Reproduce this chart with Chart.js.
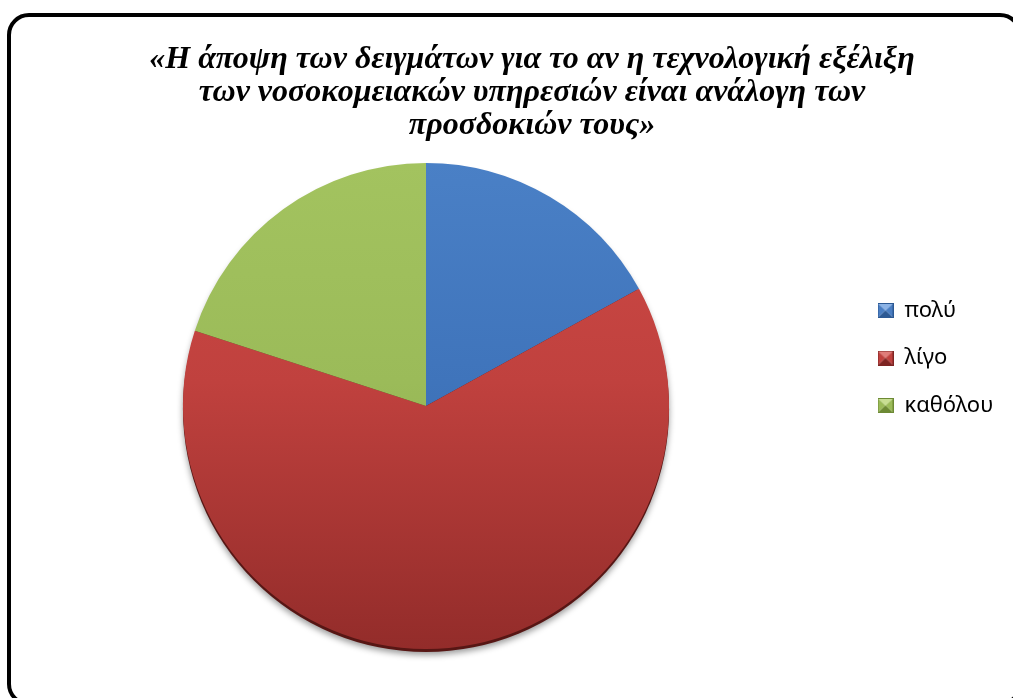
<!DOCTYPE html>
<html lang="el">
<head>
<meta charset="utf-8">
<title>Τεχνολογική εξέλιξη νοσοκομειακών υπηρεσιών</title>
<script src="https://cdn.jsdelivr.net/npm/chart.js@4.4.1/dist/chart.umd.min.js"></script>
<style>
    html, body { margin: 0; padding: 0; background: #fff; overflow: hidden; }
    #pieChart { position: absolute; left: 0; top: 0; }
</style>
</head>
<body>
<canvas id="pieChart" width="1080" height="710"></canvas>
<script>
const titleLines = [
    '«Η άποψη των δειγμάτων για το αν η τεχνολογική εξέλιξη',
    'των νοσοκομειακών υπηρεσιών είναι ανάλογη των',
    'προσδοκιών τους»',
]
const labels = ['πολύ', 'λίγο', 'καθόλου']
const values = [17, 63, 20]

// slice shading: light at the top, darker towards the bottom
const topColors = ['#4a80c6', '#ce4a46', '#a3c35f']
const baseColors = ['#3f74bb', '#c0413e', '#9bbb59']
const bottomColors = ['#3363a6', '#932c2a', '#88a748']

const sliceFill = (context) => {
    const i = context.dataIndex
    const area = context.chart.chartArea
    if (!area) return baseColors[i]
    const g = context.chart.ctx.createLinearGradient(0, area.top, 0, area.bottom)
    g.addColorStop(0, topColors[i])
    g.addColorStop(0.45, baseColors[i])
    g.addColorStop(1, bottomColors[i])
    return g
}

// small bevelled squares for the legend
const bevelBox = (light, mid, dark) => {
    const c = document.createElement('canvas')
    c.width = 16
    c.height = 15
    const g = c.getContext('2d')
    const tri = (pts, color) => {
        g.fillStyle = color
        g.beginPath()
        g.moveTo(pts[0], pts[1])
        g.lineTo(pts[2], pts[3])
        g.lineTo(8, 7.5)
        g.closePath()
        g.fill()
    }
    tri([0, 0, 16, 0], light)
    tri([0, 0, 0, 15], mid)
    tri([16, 0, 16, 15], mid)
    tri([0, 15, 16, 15], dark)
    g.strokeStyle = dark
    g.strokeRect(0.5, 0.5, 15, 14)
    return c
}
const legendIcons = [
    bevelBox('#8cb3e6', '#4a7ec3', '#2c5994'),
    bevelBox('#e07d7a', '#c0413e', '#7e2422'),
    bevelBox('#c8de93', '#9bbb59', '#6d8a34'),
]

// rounded black frame round the whole chart
const chartFrame = {
    id: 'chartFrame',
    beforeDraw(chart) {
        const ctx = chart.ctx
        const x0 = 9, y0 = 15, x1 = 1020, y1 = 704, r = 20
        ctx.save()
        ctx.lineWidth = 4
        ctx.strokeStyle = '#000'
        ctx.beginPath()
        ctx.moveTo(x0 + r, y0)
        ctx.arcTo(x1, y0, x1, y1, r)
        ctx.arcTo(x1, y1, x0, y1, r)
        ctx.arcTo(x0, y1, x0, y0, r)
        ctx.arcTo(x0, y0, x1, y0, r)
        ctx.closePath()
        ctx.stroke()
        ctx.restore()
    },
}

// dark rim and soft shadow under the pie
const pieShadow = {
    id: 'pieShadow',
    beforeDatasetsDraw(chart) {
        const arc = chart.getDatasetMeta(0).data[0]
        if (!arc) return
        const ctx = chart.ctx
        ctx.save()
        ctx.shadowColor = 'rgba(0, 0, 0, 0.4)'
        ctx.shadowBlur = 6
        ctx.shadowOffsetY = 3
        ctx.fillStyle = '#571614'
        ctx.beginPath()
        ctx.arc(arc.x, arc.y + 3, arc.outerRadius, 0, Math.PI * 2)
        ctx.fill()
        ctx.restore()
    },
}

// give the legend a fixed width so the title sits further right than the pie
const legendRoom = {
    id: 'legendRoom',
    beforeLayout(chart) {
        const legend = chart.legend
        if (!legend || legend.widened) return
        const fit = legend.fit
        legend.fit = function () {
            fit.call(this)
            this.width = Math.max(this.width, 212)
        }
        legend.widened = true
    },
}

new Chart(document.getElementById('pieChart'), {
    type: 'pie',
    data: {
        labels: labels,
        datasets: [
            {
                data: values,
                backgroundColor: sliceFill,
                borderWidth: 0,
            },
        ],
    },
    options: {
        responsive: false,
        animation: false,
        layout: {
            padding: { top: 0, left: 0, right: 16, bottom: 61 },
        },
        plugins: {
            title: {
                display: true,
                text: titleLines,
                color: '#000',
                font: {
                    family: '"Liberation Serif", "Times New Roman", serif',
                    size: 32,
                    weight: 'bold',
                    style: 'italic',
                    lineHeight: 1.03,
                },
                padding: { top: 43.5, bottom: 20.5 },
            },
            legend: {
                position: 'right',
                align: 'start',
                title: {
                    display: true,
                    text: '',
                    padding: { top: 259.6, bottom: 0 },
                },
                labels: {
                    usePointStyle: true,
                    pointStyleWidth: 16,
                    padding: 25.5,
                    color: '#000',
                    font: { family: '"Noto Sans", sans-serif', size: 22 },
                    generateLabels: () =>
                        labels.map((text, i) => ({
                            text: text,
                            pointStyle: legendIcons[i],
                            fillStyle: baseColors[i],
                            strokeStyle: baseColors[i],
                            lineWidth: 0,
                            fontColor: '#000',
                            hidden: false,
                            index: i,
                        })),
                },
            },
            tooltip: { enabled: false },
        },
    },
    plugins: [chartFrame, pieShadow, legendRoom],
})
</script>
</body>
</html>
